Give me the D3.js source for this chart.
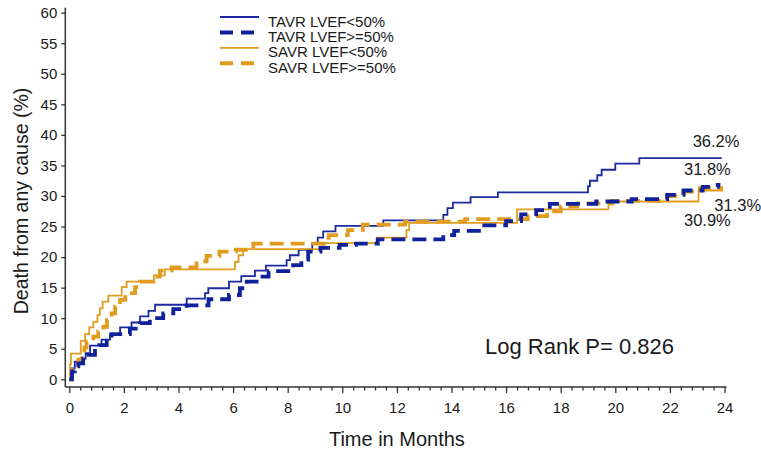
<!DOCTYPE html>
<html>
<head>
<meta charset="utf-8">
<script src="https://cdn.jsdelivr.net/npm/d3@7"></script>
<style>
  html, body { margin: 0; padding: 0; background: #fff; }
  svg { display: block; font-family: "Liberation Sans", Arial, sans-serif; }
</style>
</head>
<body>
<svg id="chart" width="761" height="453"></svg>
<script>
// ---- data ----
const seriesNames = ["TAVR LVEF<50%", "TAVR LVEF>=50%", "SAVR LVEF<50%", "SAVR LVEF>=50%"];

const tavrLowTime = [0, 0.05, 0.2, 0.45, 0.6, 0.76, 1.18, 1.49, 1.86, 2.28, 2.59, 2.9, 3.14, 4.3, 4.97, 5.09, 5.85, 6.3, 6.8, 7.2, 7.96, 8.08, 8.4, 8.9, 9.1, 9.3, 9.75, 11.5, 13.7, 13.85, 14.05, 14.7, 15.7, 19.0, 19.07, 19.34, 19.5, 20.0, 20.88, 23.9];
const tavrLowPct  = [0, 1.8, 2.9, 3.4, 4.3, 5.5, 6.5, 7.4, 8.5, 9.3, 10.3, 11.2, 12.2, 13.2, 14.1, 14.9, 16.0, 16.9, 17.8, 18.6, 19.5, 20.3, 21.2, 22.3, 23.2, 24.2, 25.1, 26.0, 26.9, 28.0, 28.9, 29.8, 30.6, 31.6, 32.5, 33.4, 34.3, 35.3, 36.2, 36.2];

const tavrHighTime = [0, 0.1, 0.2, 0.33, 0.51, 0.65, 0.94, 1.1, 1.37, 1.55, 2.22, 2.59, 2.95, 3.44, 3.81, 4.3, 5.1, 5.85, 6.25, 6.5, 6.95, 7.3, 8.2, 8.5, 8.75, 9.2, 9.9, 10.5, 11.3, 13.7, 14.1, 15.2, 16.0, 16.55, 17.1, 17.6, 19.3, 20.6, 21.9, 22.5, 23.2, 23.75, 23.85];
const tavrHighPct  = [0, 1.3, 2.1, 2.6, 3.4, 4.0, 5.1, 5.6, 6.5, 7.4, 8.3, 9.2, 10.0, 10.8, 11.5, 12.1, 13.1, 13.8, 14.9, 16.0, 16.8, 17.7, 18.7, 19.6, 20.9, 21.5, 22.0, 22.2, 22.9, 23.6, 24.3, 25.2, 25.9, 27.0, 27.7, 28.7, 29.1, 29.5, 30.2, 30.9, 31.5, 31.8, 31.8];

const savrLowTime = [0, 0.03, 0.06, 0.42, 0.58, 0.73, 0.88, 1.03, 1.12, 1.22, 1.43, 1.92, 2.1, 3.1, 3.5, 6.07, 6.2, 6.37, 9.3, 11.26, 12.35, 12.45, 16.4, 19.75, 23.05, 23.95];
const savrLowPct  = [0, 2.5, 4.2, 6.3, 7.4, 8.5, 9.4, 10.5, 11.6, 12.7, 13.7, 15.1, 16.0, 17.0, 18.0, 19.2, 20.3, 21.3, 22.3, 23.2, 24.4, 25.6, 27.8, 29.1, 30.9, 30.9];

const savrHighTime = [0, 0.1, 0.2, 0.33, 0.45, 0.55, 0.63, 0.88, 1.06, 1.25, 1.38, 1.55, 1.68, 1.86, 2.05, 2.41, 2.59, 3.08, 3.32, 3.75, 4.66, 5.03, 5.5, 6.1, 6.74, 9.5, 10.2, 10.75, 12.3, 14.5, 16.8, 17.5, 18.0, 18.6, 19.9, 21.9, 22.5, 23.1, 23.95];
const savrHighPct  = [0, 1.5, 2.3, 3.2, 4.3, 5.2, 6.2, 7.0, 7.8, 8.6, 9.7, 10.8, 11.9, 13.0, 14.1, 15.1, 16.0, 16.8, 17.8, 18.3, 19.3, 20.2, 20.9, 21.2, 22.2, 23.6, 24.4, 25.3, 25.8, 26.2, 26.7, 27.5, 28.3, 28.8, 29.2, 30.0, 30.7, 31.3, 31.3];

const xTicks = [0, 2, 4, 6, 8, 10, 12, 14, 16, 18, 20, 22, 24];
const yTicks = [0, 5, 10, 15, 20, 25, 30, 35, 40, 45, 50, 55, 60];
const endLabels = ["36.2%", "31.8%", "31.3%", "30.9%"];
const pText = "Log Rank P= 0.826";
const xTitle = "Time in Months";
const yTitle = "Death from any cause (%)";

// ---- styles ----
const blue = "#1b2b9f", blueDash = "#0f219b", orange = "#e19c1e";
const styles = [
  { color: blue, width: 1.8, dash: null },
  { color: blueDash, width: 3.8, dash: "14,7" },
  { color: orange, width: 1.8, dash: null },
  { color: orange, width: 3.8, dash: "14,7" }
];

const svg = d3.select("#chart");
const x = d3.scaleLinear().domain([0, 24]).range([69.3, 724.5]);
const y = d3.scaleLinear().domain([0, 60]).range([379.3, 12.7]);
const axisY = 387, axisX = 65.3;
const textColor = "#1a1a1a", axisColor = "#333";

// x axis
const gx = svg.append("g").attr("transform", `translate(0,${axisY})`);
gx.call(d3.axisBottom(x).tickValues(xTicks).tickSize(6).tickPadding(9.5).tickFormat(d3.format("d")));
const minor = d3.range(0, 24.01, 0.4).filter(v => Math.abs(v / 2 - Math.round(v / 2)) > 1e-6);
const gxm = svg.append("g").attr("transform", `translate(0,${axisY})`);
gxm.call(d3.axisBottom(x).tickValues(minor).tickSize(3.5).tickFormat(""));
gxm.select(".domain").remove();
gx.select(".domain").remove();
svg.append("line").attr("x1", axisX).attr("x2", x(24) + 2).attr("y1", axisY).attr("y2", axisY)
  .attr("stroke", axisColor).attr("stroke-width", 1.5);

// y axis
const gy = svg.append("g").attr("transform", `translate(${axisX},0)`);
gy.call(d3.axisLeft(y).tickValues(yTicks).tickSize(4).tickPadding(4).tickFormat(d3.format("d")));
gy.select(".domain").remove();
svg.append("line").attr("x1", axisX).attr("x2", axisX).attr("y1", y(60) - 5).attr("y2", axisY)
  .attr("stroke", axisColor).attr("stroke-width", 1.5);

[gx, gxm, gy].forEach(g => {
  g.selectAll(".tick line").attr("stroke", axisColor).attr("stroke-width", 1.3);
  g.selectAll(".tick text").attr("fill", textColor).style("font-size", "15px")
    .style("font-family", '"Liberation Sans", Arial, sans-serif');
});

// axis titles
svg.append("text").attr("x", (x(0) + x(24)) / 2).attr("y", 446).attr("text-anchor", "middle")
  .attr("fill", textColor).style("font-size", "20px").text(xTitle);
svg.append("text").attr("transform", "translate(27.5,201) rotate(-90)").attr("text-anchor", "middle")
  .attr("fill", textColor).style("font-size", "19.5px").text(yTitle);

// curves
const seriesData = [
  tavrLowTime.map((t, i) => [t, tavrLowPct[i]]),
  tavrHighTime.map((t, i) => [t, tavrHighPct[i]]),
  savrLowTime.map((t, i) => [t, savrLowPct[i]]),
  savrHighTime.map((t, i) => [t, savrHighPct[i]])
];
const line = d3.line().x(d => x(d[0])).y(d => y(d[1])).curve(d3.curveStepAfter);
const drawOrder = [0, 2, 3, 1];
drawOrder.forEach(i => {
  const s = styles[i];
  const p = svg.append("path").datum(seriesData[i]).attr("d", line)
    .attr("fill", "none").attr("stroke", s.color).attr("stroke-width", s.width);
  if (s.dash) p.attr("stroke-dasharray", s.dash);
});

// legend
const legend = svg.append("g");
seriesNames.forEach((name, i) => {
  const s = styles[i];
  const base = 26.5 + i * 15.4;
  const l = legend.append("line").attr("x1", 220).attr("x2", 259)
    .attr("y1", base - 9.5).attr("y2", base - 9.5)
    .attr("stroke", s.color).attr("stroke-width", s.dash ? 4 : 1.8);
  if (s.dash) l.attr("stroke-dasharray", "13,8");
  legend.append("text").attr("x", 268).attr("y", base).attr("fill", textColor)
    .style("font-size", "15px").text(name);
});

// end labels
const endPos = [[692.7, 147.3], [684, 175], [714.3, 210.7], [684, 226]];
endLabels.forEach((lab, i) => {
  svg.append("text").attr("x", endPos[i][0]).attr("y", endPos[i][1]).attr("fill", textColor)
    .style("font-size", "16.5px").text(lab);
});

// p-value
svg.append("text").attr("x", 485).attr("y", 354).attr("fill", textColor)
  .style("font-size", "22px").text(pText);
</script>
</body>
</html>
